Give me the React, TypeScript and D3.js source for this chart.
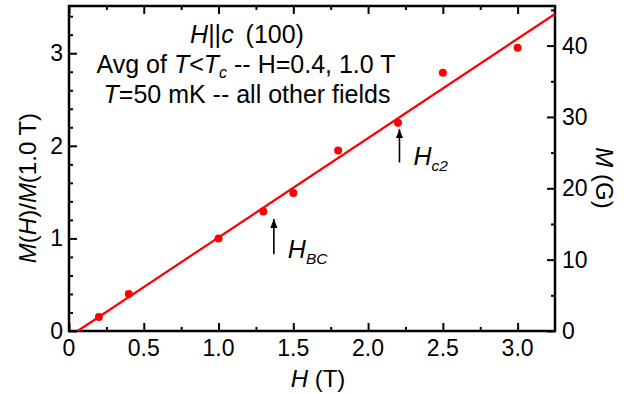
import React, { useEffect, useRef } from 'react';
import * as d3 from 'd3';

// measured points: field H (T) vs normalized magnetization
const fieldH = [0.2, 0.4, 1.0, 1.3, 1.5, 1.8, 2.2, 2.5, 3.0];
const normM = [0.15, 0.4, 1.0, 1.29, 1.49, 1.95, 2.25, 2.79, 3.06];

// linear fit endpoints
const fitH = [0.058, 3.25];
const fitM = [0, 3.424];

const xTicks = [0, 0.5, 1.0, 1.5, 2.0, 2.5, 3.0];
const xTickLabels = ['0', '0.5', '1.0', '1.5', '2.0', '2.5', '3.0'];
const yTicks = [0, 1, 2, 3];
const gaussTicks = [0, 10, 20, 30, 40];

// arrows: [H, from M, to M]
const arrowBC = [1.37, 0.83, 1.21];
const arrowC2 = [2.21, 1.82, 2.18];

const W = 636;
const H = 394;
const FONT = '"Liberation Sans", Arial, sans-serif';

export default function App() {
  const svgRef = useRef<SVGSVGElement>(null);

  useEffect(() => {
    const svg = d3.select(svgRef.current);
    svg.selectAll('*').remove();

    const margin = { top: 6, right: 81, bottom: 63, left: 69 };

    const x = d3.scaleLinear().domain([0, 3.25]).range([margin.left, W - margin.right]);
    const y = d3.scaleLinear().domain([0, 3.51]).range([H - margin.bottom, margin.top]);
    const yG = d3.scaleLinear().domain([0, 45.55]).range([H - margin.bottom, margin.top]);

    svg.append('defs').append('marker')
      .attr('id', 'arr')
      .attr('viewBox', '0 0 10 10')
      .attr('refX', 10).attr('refY', 5)
      .attr('markerWidth', 9).attr('markerHeight', 10)
      .attr('markerUnits', 'userSpaceOnUse')
      .attr('orient', 'auto')
      .append('path')
      .attr('d', 'M0,1 L10,5 L0,9 Z')
      .attr('fill', '#000');

    const styleAxis = (g: any) => {
      g.select('.domain').remove();
      g.selectAll('line').attr('stroke', '#000').attr('stroke-width', 2);
      g.selectAll('text').remove();
    };

    const xMinor = d3.range(0.25, 3.25, 0.5);
    const yMinor = d3.range(0, 3.51, 0.2).filter(v => Math.abs(v - Math.round(v)) > 0.01);
    const gMinor = [5, 15, 25, 35, 45];

    // bottom axis
    svg.append('g')
      .attr('transform', `translate(0, ${H - margin.bottom})`)
      .call(d3.axisTop(x).tickValues(xTicks).tickSize(8))
      .call(styleAxis);
    svg.append('g')
      .attr('transform', `translate(0, ${H - margin.bottom})`)
      .call(d3.axisTop(x).tickValues(xMinor).tickSize(4))
      .call(styleAxis);
    svg.append('g')
      .selectAll('text')
      .data(xTicks)
      .enter().append('text')
      .attr('x', d => x(d))
      .attr('y', H - margin.bottom + 25)
      .attr('text-anchor', 'middle')
      .attr('font-family', FONT)
      .attr('font-size', 23)
      .text((d, i) => xTickLabels[i]);

    // top axis
    svg.append('g')
      .attr('transform', `translate(0, ${margin.top})`)
      .call(d3.axisBottom(x).tickValues(xTicks).tickSize(8))
      .call(styleAxis);
    svg.append('g')
      .attr('transform', `translate(0, ${margin.top})`)
      .call(d3.axisBottom(x).tickValues(xMinor).tickSize(4))
      .call(styleAxis);

    // left axis
    svg.append('g')
      .attr('transform', `translate(${margin.left}, 0)`)
      .call(d3.axisRight(y).tickValues(yTicks).tickSize(8))
      .call(styleAxis);
    svg.append('g')
      .attr('transform', `translate(${margin.left}, 0)`)
      .call(d3.axisRight(y).tickValues(yMinor).tickSize(4))
      .call(styleAxis);
    svg.append('g')
      .selectAll('text')
      .data(yTicks)
      .enter().append('text')
      .attr('x', margin.left - 6)
      .attr('y', d => y(d) + 8)
      .attr('text-anchor', 'end')
      .attr('font-family', FONT)
      .attr('font-size', 23)
      .text(d => String(d));

    // right axis (gauss)
    svg.append('g')
      .attr('transform', `translate(${W - margin.right}, 0)`)
      .call(d3.axisLeft(yG).tickValues(gaussTicks).tickSize(8))
      .call(styleAxis);
    svg.append('g')
      .attr('transform', `translate(${W - margin.right}, 0)`)
      .call(d3.axisLeft(yG).tickValues(gMinor).tickSize(4))
      .call(styleAxis);
    svg.append('g')
      .selectAll('text')
      .data(gaussTicks)
      .enter().append('text')
      .attr('x', W - margin.right + 7)
      .attr('y', d => yG(d) + 8)
      .attr('text-anchor', 'start')
      .attr('font-family', FONT)
      .attr('font-size', 23)
      .text(d => String(d));

    // frame
    svg.append('rect')
      .attr('x', margin.left)
      .attr('y', margin.top)
      .attr('width', W - margin.right - margin.left)
      .attr('height', H - margin.bottom - margin.top)
      .attr('fill', 'none')
      .attr('stroke', '#000')
      .attr('stroke-width', 2.5);

    // fit line
    const line = d3.line<number>()
      .x((d, i) => x(fitH[i]))
      .y(d => y(d));
    svg.append('path')
      .datum(fitM)
      .attr('fill', 'none')
      .attr('stroke', '#f00')
      .attr('stroke-width', 2.2)
      .attr('d', line);

    // points
    svg.append('g')
      .selectAll('circle')
      .data(fieldH)
      .enter().append('circle')
      .attr('cx', d => x(d))
      .attr('cy', (d, i) => y(normM[i]))
      .attr('r', 4)
      .attr('fill', '#f00');

    // arrows
    [arrowBC, arrowC2].forEach(a => {
      svg.append('line')
        .attr('x1', x(a[0])).attr('x2', x(a[0]))
        .attr('y1', y(a[1])).attr('y2', y(a[2]))
        .attr('stroke', '#000')
        .attr('stroke-width', 1.6)
        .attr('marker-end', 'url(#arr)');
    });

    const sub = (t: any, main: string, s: string, size: number) => {
      t.append('tspan').attr('font-style', 'italic').text(main);
      t.append('tspan').attr('font-style', 'italic').attr('font-size', size * 0.62).attr('dy', 6).text(s);
    };

    const lblBC = svg.append('text')
      .attr('x', x(arrowBC[0]) + 14)
      .attr('y', y(arrowBC[1]) + 4)
      .attr('font-family', FONT)
      .attr('font-size', 25);
    sub(lblBC, 'H', 'BC', 25);

    const lblC2 = svg.append('text')
      .attr('x', x(arrowC2[0]) + 14)
      .attr('y', y(arrowC2[1]) + 3)
      .attr('font-family', FONT)
      .attr('font-size', 25);
    sub(lblC2, 'H', 'c2', 25);

    // annotation block
    const cx = 246;
    const AF = 25;
    const t1 = svg.append('text').attr('x', cx + 1).attr('y', 43).attr('text-anchor', 'middle')
      .attr('font-family', FONT).attr('font-size', AF);
    t1.append('tspan').attr('font-style', 'italic').text('H');
    t1.append('tspan').text('||');
    t1.append('tspan').attr('font-style', 'italic').text('c');
    t1.append('tspan').attr('dx', 5).text(' (100)');

    const t2 = svg.append('text').attr('x', cx).attr('y', 73).attr('text-anchor', 'middle')
      .attr('font-family', FONT).attr('font-size', AF);
    t2.append('tspan').text('Avg of ');
    t2.append('tspan').attr('font-style', 'italic').text('T');
    t2.append('tspan').text('<');
    t2.append('tspan').attr('font-style', 'italic').text('T');
    t2.append('tspan').attr('font-style', 'italic').attr('font-size', 16).attr('dy', 5).text('c');
    t2.append('tspan').attr('dy', -5).text(' -- H=0.4, 1.0 T');

    const t3 = svg.append('text').attr('x', cx + 1).attr('y', 103).attr('text-anchor', 'middle')
      .attr('font-family', FONT).attr('font-size', AF);
    t3.append('tspan').attr('font-style', 'italic').text('T');
    t3.append('tspan').text('=50 mK -- all other fields');

    // axis titles
    const xt = svg.append('text')
      .attr('x', 318).attr('y', 387)
      .attr('text-anchor', 'middle')
      .attr('font-family', FONT).attr('font-size', 24);
    xt.append('tspan').attr('font-style', 'italic').text('H');
    xt.append('tspan').text(' (T)');

    const yt = svg.append('text')
      .attr('transform', `translate(36, 188) rotate(-90)`)
      .attr('text-anchor', 'middle')
      .attr('font-family', FONT).attr('font-size', 24);
    yt.append('tspan').attr('font-style', 'italic').text('M');
    yt.append('tspan').text('(');
    yt.append('tspan').attr('font-style', 'italic').text('H');
    yt.append('tspan').text(')/');
    yt.append('tspan').attr('font-style', 'italic').text('M');
    yt.append('tspan').text('(1.0 T)');

    const gt = svg.append('text')
      .attr('transform', `translate(596, 178) rotate(90)`)
      .attr('text-anchor', 'middle')
      .attr('font-family', FONT).attr('font-size', 24);
    gt.append('tspan').attr('font-style', 'italic').text('M');
    gt.append('tspan').text(' (G)');
  }, []);

  return (
    <svg ref={svgRef} width={W} height={H}
      style={{ position: 'absolute', left: 0, top: 0, background: '#fff' }} />
  );
}
